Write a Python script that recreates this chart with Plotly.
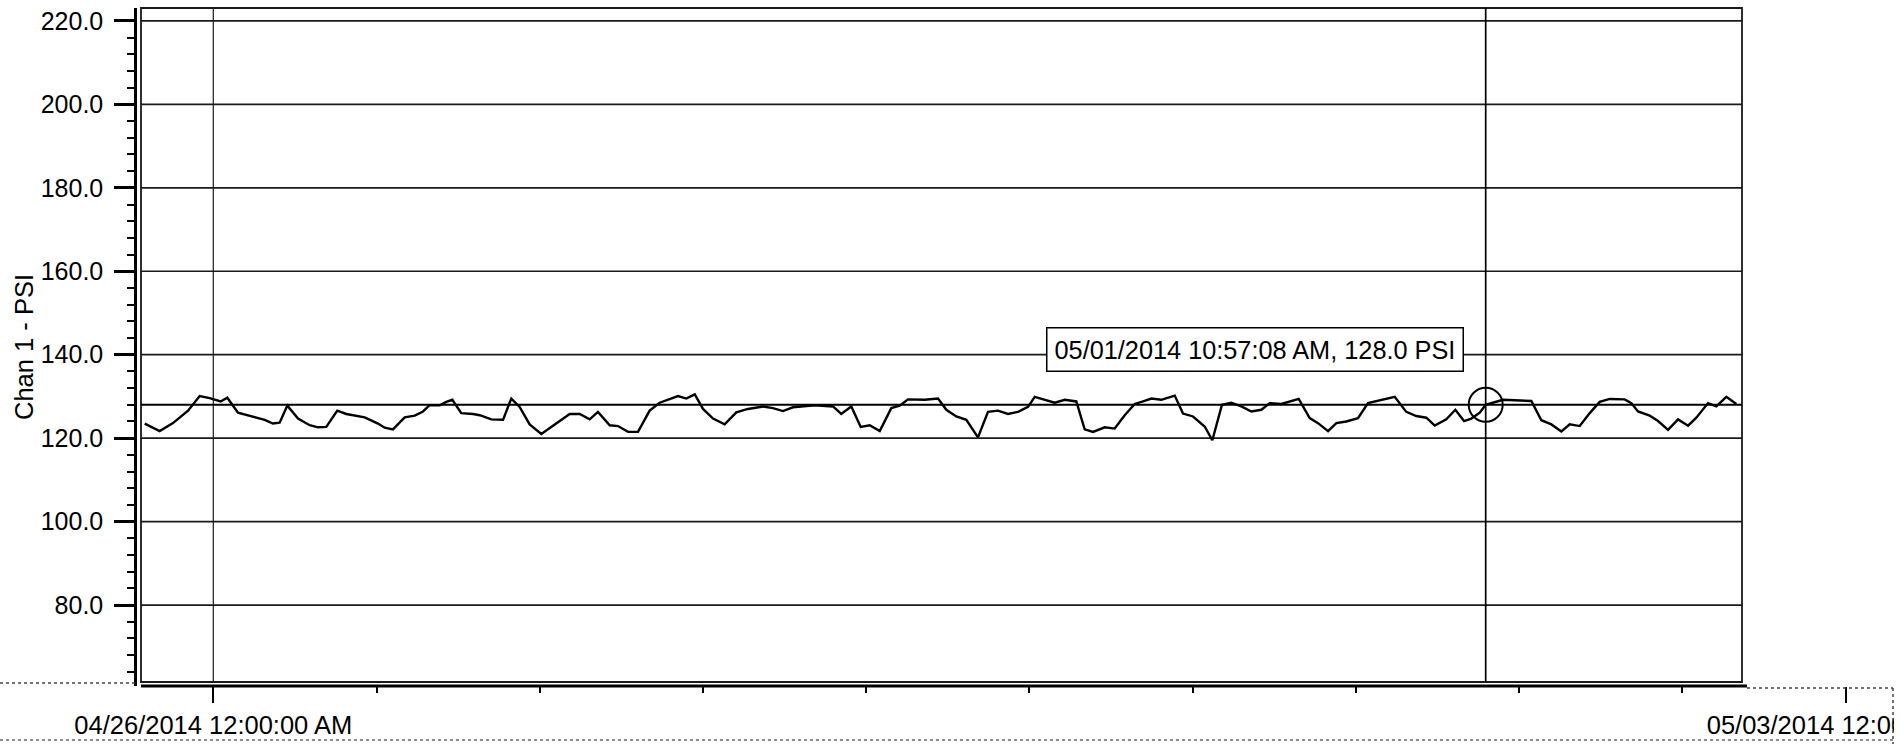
import pandas as pd
import plotly.graph_objects as go

# ---------------- data ----------------
start = pd.Timestamp("2014-04-26 00:00:00")

# elapsed hours since 04/26/2014 12:00:00 AM
hours = [
    -7.06, -5.52, -4.15, -2.60, -1.40, -0.37, 0.76, 1.44, 2.54, 4.09,
    5.29, 6.14, 6.83, 7.62, 8.72, 9.92, 10.78, 11.63, 12.76, 13.69,
    15.58, 16.95, 17.64, 18.49, 19.70, 20.73, 21.58, 22.27, 23.30, 23.98,
    24.60, 25.52, 26.73, 27.42, 28.61, 29.82, 30.67, 31.53, 32.56, 33.76,
    35.14, 36.68, 37.71, 38.74, 39.59, 40.80, 41.65, 42.68, 43.71, 44.91,
    45.94, 47.14, 47.83, 48.68, 49.55, 50.40, 51.43, 52.63, 53.83, 55.03,
    56.58, 57.60, 58.63, 59.66, 61.03, 61.90, 63.78, 64.63, 65.66, 66.63,
    67.56, 68.59, 69.78, 70.64, 71.50, 73.22, 74.59, 75.44, 76.47, 77.50,
    78.70, 79.73, 80.76, 81.79, 82.82, 83.85, 84.54, 85.73, 86.60, 87.63,
    88.82, 89.68, 90.54, 91.74, 92.77, 93.80, 94.83, 95.69, 96.54, 97.57,
    98.95, 99.80, 100.83, 102.03, 102.82, 103.81, 104.77, 105.80, 106.83, 107.86,
    108.73, 109.92, 110.78, 111.71, 112.84, 113.70, 114.73, 115.58, 116.61, 117.81,
    118.84, 119.87, 120.90, 121.59, 122.78, 123.81, 124.84, 125.71, 126.90, 127.83,
    128.72, 129.47, 130.34, 130.95, 132.73, 135.65, 136.68, 137.71, 138.74, 139.60,
    140.63, 141.66, 142.69, 143.72, 145.26, 145.94, 146.63, 147.83, 148.69, 149.72,
    150.75, 151.78, 152.63, 153.83, 154.69, 155.72, 156.75,
]
psi = [
    123.5, 121.7, 123.6, 126.6, 130.1, 129.6, 128.8, 129.7, 126.1, 125.2,
    124.4, 123.5, 123.7, 127.8, 124.7, 123.1, 122.6, 122.7, 126.6, 125.8,
    125.0, 123.5, 122.5, 122.1, 125.0, 125.4, 126.4, 127.9, 127.9, 128.7,
    129.2, 126.0, 125.8, 125.5, 124.5, 124.4, 129.5, 127.5, 123.3, 121.0,
    123.3, 125.8, 125.8, 124.5, 126.3, 123.1, 122.9, 121.5, 121.5, 126.6,
    128.5, 129.5, 130.1, 129.5, 130.5, 127.0, 124.7, 123.3, 126.2, 127.0,
    127.6, 127.2, 126.5, 127.4, 127.6, 127.9, 127.6, 125.8, 127.6, 122.7,
    123.1, 121.7, 127.2, 127.8, 129.3, 129.2, 129.5, 126.8, 125.2, 124.4,
    120.2, 126.3, 126.6, 125.8, 126.3, 127.5, 129.9, 129.0, 128.5, 129.2,
    128.8, 122.1, 121.5, 122.6, 122.3, 125.5, 128.2, 128.8, 129.5, 129.2,
    130.2, 125.9, 125.2, 122.8, 119.5, 128.0, 128.5, 127.6, 126.4, 126.8,
    128.4, 128.2, 128.8, 129.4, 124.8, 123.6, 121.7, 123.6, 124.0, 124.8,
    128.4, 128.9, 129.4, 129.9, 126.3, 125.3, 124.9, 123.0, 124.5, 126.8,
    124.1, 124.7, 126.1, 128.0, 129.2, 128.9, 124.3, 123.3, 121.6, 123.3,
    122.9, 126.0, 128.7, 129.4, 129.3, 128.4, 126.4, 125.4, 124.1, 122.0,
    124.5, 123.0, 124.9, 128.4, 127.6, 129.9, 128.2,
]

cursor_time = pd.Timestamp("2014-05-01 10:57:08")
cursor_psi = 128.0
cursor_label = "05/01/2014 10:57:08 AM, 128.0 PSI"
grid_marker_time = pd.Timestamp("2014-04-26 00:00:00")

y_major = [80, 100, 120, 140, 160, 180, 200, 220]
y_title = "Chan 1 - PSI"
x_tick_format = "%m/%d/%Y %I:%M:%S %p"

# ---------------- layout geometry ----------------
W, H = 1903, 744
ML, MR, MT, MB = 137, 0, 8, 58
FONT = "Liberation Sans, Arial, Helvetica, sans-serif"
FS = 25.5

x_range_hours = (-7.852, 173.90)
y_range = (60.6, 223.1)

times = [start + pd.Timedelta(hours=h) for h in hours]
x_range = [start + pd.Timedelta(hours=x_range_hours[0]),
           start + pd.Timedelta(hours=x_range_hours[1])]

pw = W - ML - MR
ph = H - MT - MB
def px_x(p):  # absolute pixel -> paper x
    return (p - ML) / pw
def px_y(p):  # absolute pixel -> paper y
    return (H - MB - p) / ph

frame_l, frame_r = px_x(141), px_x(1742)
frame_b, frame_t = px_y(682), px_y(8)

fig = go.Figure()
fig.add_trace(go.Scatter(x=times, y=psi, mode="lines",
                         line=dict(color="black", width=2.4), hoverinfo="skip"))
fig.add_trace(go.Scatter(x=[cursor_time], y=[cursor_psi], mode="markers",
                         marker=dict(symbol="circle-open", size=34, color="black",
                                     line=dict(color="black", width=2)),
                         hoverinfo="skip"))

shapes = []
line_col = "#1a1a1a"
# plot frame
shapes.append(dict(type="rect", xref="paper", yref="paper",
                   x0=frame_l, x1=frame_r, y0=frame_b, y1=frame_t,
                   line=dict(color=line_col, width=1.8), layer="below"))
# horizontal gridlines inside the frame
for v in y_major:
    shapes.append(dict(type="line", xref="paper", yref="y",
                       x0=frame_l, x1=frame_r, y0=v, y1=v,
                       line=dict(color=line_col, width=1.7), layer="below"))
# vertical gridline at the major date
shapes.append(dict(type="line", xref="x", yref="paper",
                   x0=grid_marker_time, x1=grid_marker_time, y0=frame_b, y1=frame_t,
                   line=dict(color=line_col, width=1.2), layer="below"))
# cursor cross-hair
shapes.append(dict(type="line", xref="x", yref="paper",
                   x0=cursor_time, x1=cursor_time, y0=frame_b, y1=frame_t,
                   line=dict(color="black", width=1.7), layer="below"))
shapes.append(dict(type="line", xref="paper", yref="y",
                   x0=frame_l, x1=frame_r, y0=cursor_psi, y1=cursor_psi,
                   line=dict(color="black", width=2), layer="below"))
# x axis line (solid under the frame, dotted beyond)
shapes.append(dict(type="line", xref="paper", yref="paper",
                   x0=px_x(141), x1=px_x(1747), y0=px_y(686), y1=px_y(686),
                   line=dict(color="black", width=3)))
shapes.append(dict(type="line", xref="paper", yref="paper",
                   x0=px_x(1747), x1=px_x(1893), y0=px_y(688), y1=px_y(688),
                   line=dict(color="#444", width=1.5, dash="dot")))
# dotted printout border around the time axis strip
shapes.append(dict(type="line", xref="paper", yref="paper",
                   x0=px_x(0), x1=px_x(137), y0=px_y(683), y1=px_y(683),
                   line=dict(color="#444", width=1.5, dash="dot")))
shapes.append(dict(type="line", xref="paper", yref="paper",
                   x0=px_x(0), x1=px_x(1900), y0=px_y(740), y1=px_y(740),
                   line=dict(color="#666", width=1.5, dash="dot")))
# mask cut-off part of right label (printout edge)
shapes.append(dict(type="rect", xref="paper", yref="paper",
                   x0=px_x(1894), x1=px_x(1910), y0=px_y(744), y1=px_y(689),
                   fillcolor="white", line=dict(width=0), layer="above"))
shapes.append(dict(type="line", xref="paper", yref="paper",
                   x0=px_x(1893), x1=px_x(1893), y0=px_y(688), y1=px_y(744),
                   line=dict(color="#444", width=1.5, dash="dot")))

fig.update_layout(
    template="none",
    width=W, height=H,
    margin=dict(l=ML, r=MR, t=MT, b=MB, pad=0, autoexpand=False),
    paper_bgcolor="white", plot_bgcolor="white",
    showlegend=False,
    font=dict(family=FONT, size=FS, color="black"),
    shapes=shapes,
    annotations=[dict(
        text=cursor_label, x=cursor_time, y=cursor_psi, xref="x", yref="y",
        xanchor="right", yanchor="bottom", xshift=-22, yshift=33,
        showarrow=False, bgcolor="white", bordercolor="black",
        borderwidth=1.5, borderpad=7, font=dict(family=FONT, size=25.3, color="black"),
    )],
)

fig.update_xaxes(
    type="date", range=x_range, domain=[0, 1], automargin=False,
    showgrid=False, zeroline=False, showline=False,
    tick0=start, dtick=7 * 86400000, tickformat=x_tick_format,
    ticks="outside", ticklen=16, tickwidth=2, tickcolor="black",
    ticklabeloverflow="allow",
    tickfont=dict(family=FONT, size=FS, color="black"),
    minor=dict(tick0=start, dtick=int(16.8 * 3600000), ticks="outside",
               ticklen=6, tickwidth=2, tickcolor="black", showgrid=False),
)
fig.update_yaxes(
    range=list(y_range), showgrid=False, zeroline=False, automargin=False,
    showline=True, linecolor="black", linewidth=2.5,
    tickmode="array", tickvals=y_major, tickformat=".1f",
    ticks="outside", ticklen=20, tickwidth=2.5, tickcolor="black",
    ticklabelstandoff=6,
    tickfont=dict(family=FONT, size=25, color="black"),
    minor=dict(tick0=0, dtick=4, ticks="outside", ticklen=7, tickwidth=2,
               tickcolor="black", showgrid=False),
    title=dict(text=y_title, standoff=0, font=dict(family=FONT, size=FS, color="black")),
)

fig.write_html("out.html", config={"displayModeBar": False},
               post_script="document.body.style.margin='0';")
